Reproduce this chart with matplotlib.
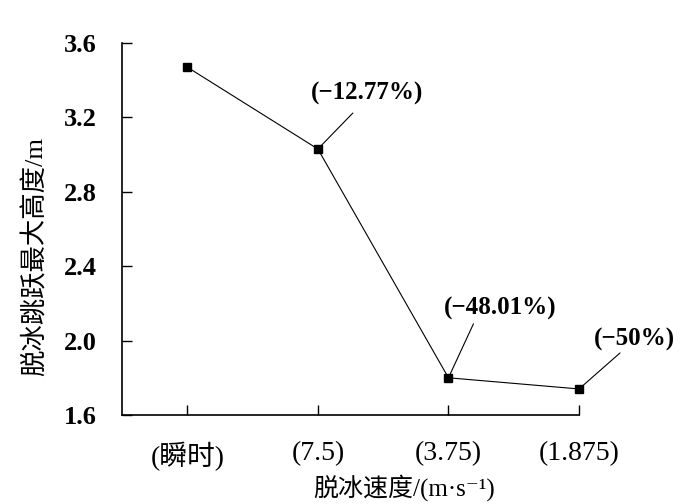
import matplotlib
matplotlib.use('Agg')
from matplotlib import pyplot as plt

# 数据
speeds = ['(瞬时)', '(7.5)', '(3.75)', '(1.875)']
heights = [3.47, 3.03, 1.80, 1.74]
changes = ['(\u221212.77%)', '(\u221248.01%)', '(\u221250%)']
yticks = [1.6, 2.0, 2.4, 2.8, 3.2, 3.6]

plt.rcParams['font.family'] = ['Liberation Serif', 'Noto Sans CJK SC', 'DejaVu Serif']
plt.rcParams['font.size'] = 18

fig = plt.figure(figsize=(7, 5.04), dpi=100)
ax = fig.add_axes([0.1743, 0.1766, 0.6529, 0.7381])

x = list(range(len(speeds)))
ax.plot(x, heights, color='black', lw=0.8, marker='s', markersize=6, clip_on=False)

ax.set_xlim(-0.5, 3)
ax.set_ylim(1.6, 3.6)
ax.set_yticks(yticks)
ax.set_yticklabels(['%.1f' % v for v in yticks], fontweight='bold', fontsize=19)
ax.set_xticks(x)
ax.set_xticklabels(speeds, fontsize=20)
ax.spines['top'].set_visible(False)
ax.spines['right'].set_visible(False)
for s in ['left', 'bottom']:
    ax.spines[s].set_linewidth(1.2)
ax.tick_params(axis='y', direction='in', length=7, width=1, pad=18)
ax.tick_params(axis='x', direction='in', length=7, width=1, pad=19)

# 标注
line_end = [(35, 36), (25, 54), (41, 36)]
text_pos = [(49, 56), (52, 69), (55, 50)]
for i, lab in enumerate(changes):
    pt = (x[i + 1], heights[i + 1])
    ax.annotate('', xy=pt, xytext=line_end[i], textcoords='offset pixels',
                arrowprops=dict(arrowstyle='-', lw=0.8, color='black',
                                shrinkA=0, shrinkB=0))
    ax.annotate(lab, xy=pt, xytext=text_pos[i], textcoords='offset pixels',
                ha='center', va='center', fontweight='bold')

fig.text(35 / 700, 1 - 257 / 504, '脱冰跳跃最大高度/m', rotation=90,
         ha='center', va='center', fontsize=19)
fig.text(404 / 700, 1 - 488 / 504, '脱冰速度/(m·s\u207b\u00b9)',
         ha='center', va='center')

fig.savefig('out.png', dpi=100)
